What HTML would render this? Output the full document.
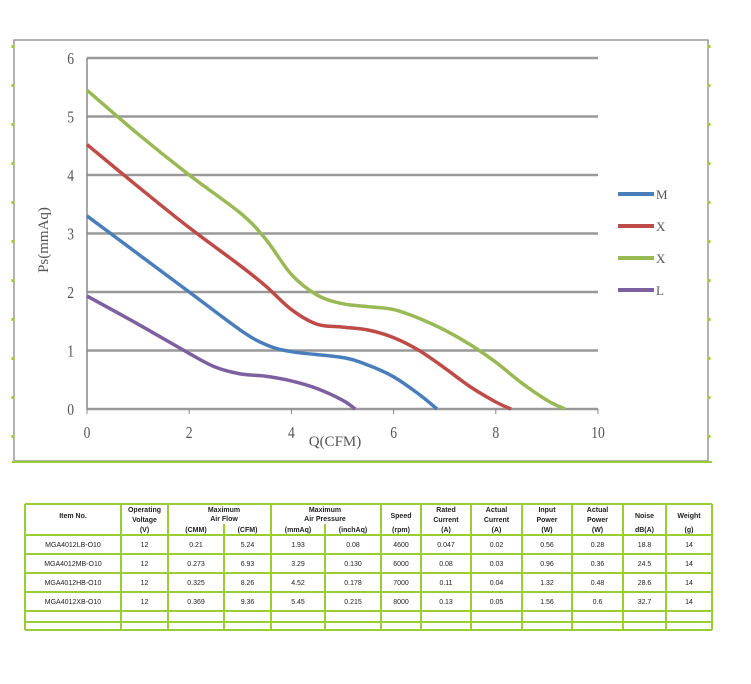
<!DOCTYPE html>
<html><head><meta charset="utf-8"><style>
body{margin:0;width:751px;height:684px;background:#fff;position:relative;overflow:hidden;font-family:"Liberation Sans",sans-serif}
svg{position:absolute;left:0;top:0}
</style></head><body>
<svg width="751" height="684">
<g id="frame"></g>
<g id="plot"></g>
<g id="tbl"></g>
</svg>
<script>
const xTicks=[0,2,4,6,8,10];
const yTicks=[0,1,2,3,4,5,6];
const seriesNames=["M","X","X","L"];
const seriesColors=["#4a7ebb","#be4b48","#98b954","#7d60a0"];
const blueX=[0,1,2,3,3.5,4,5,5.5,6,6.5,6.85];
const blueY=[3.3,2.65,2.0,1.35,1.1,0.98,0.88,0.75,0.55,0.25,0];
const redX=[0,1,2,3,3.5,4,4.5,5,5.5,6,6.5,7,7.5,8,8.3];
const redY=[4.52,3.8,3.1,2.45,2.1,1.7,1.45,1.4,1.35,1.22,1.0,0.7,0.38,0.12,0];
const greenX=[0,1,2,3,3.5,4,4.5,5,5.5,6,6.5,7,7.5,8,8.5,9,9.35];
const greenY=[5.45,4.7,4.0,3.35,2.9,2.3,1.95,1.8,1.75,1.7,1.55,1.35,1.1,0.8,0.45,0.15,0];
const purpleX=[0,1,2,2.5,3,3.5,4,4.5,5,5.25];
const purpleY=[1.93,1.45,0.95,0.72,0.6,0.56,0.48,0.35,0.15,0];
const tableHeader1=["Item No.","Operating Voltage","Maximum Air Flow","","Maximum Air Pressure","","Speed","Rated Current","Actual Current","Input Power","Actual Power","Noise","Weight"];
const tableUnits=["","(V)","(CMM)","(CFM)","(mmAq)","(inchAq)","(rpm)","(A)","(A)","(W)","(W)","dB(A)","(g)"];
const tableRows=[
["MGA4012LB-O10","12","0.21","5.24","1.93","0.08","4600","0.047","0.02","0.56","0.28","18.8","14"],
["MGA4012MB-O10","12","0.273","6.93","3.29","0.130","6000","0.08","0.03","0.96","0.36","24.5","14"],
["MGA4012HB-O10","12","0.325","8.26","4.52","0.178","7000","0.11","0.04","1.32","0.48","28.6","14"],
["MGA4012XB-O10","12","0.369","9.36","5.45","0.215","8000","0.13","0.05","1.56","0.6","32.7","14"]];
const NS="http://www.w3.org/2000/svg";
function mk(p,t,a,txt){const e=document.createElementNS(NS,t);for(const k in a)e.setAttribute(k,a[k]);if(txt!==undefined)e.textContent=txt;p.appendChild(e);return e;}
const sx=v=>87+v*51.1, sy=v=>409-v*58.5;
const frame=document.getElementById('frame'),plot=document.getElementById('plot'),tbl=document.getElementById('tbl');
mk(frame,'rect',{x:14,y:40,width:694,height:421,fill:'#fff',stroke:'#999','stroke-width':1.5});
mk(frame,'line',{x1:12,y1:462,x2:712,y2:462,stroke:'#9acd32','stroke-width':2});
for(let y=45;y<440;y+=39){mk(frame,'line',{x1:13,y1:y,x2:13,y2:y+3,stroke:'#9acd32','stroke-width':3});mk(frame,'line',{x1:709,y1:y,x2:709,y2:y+3,stroke:'#9acd32','stroke-width':3});}
yTicks.forEach(v=>{const l=mk(plot,'line',{x1:sx(0),y1:sy(v),x2:sx(10),y2:sy(v),stroke:'#999','stroke-width':2.5});

const t=mk(plot,'text',{x:74/0.8,y:sy(v)+6,'text-anchor':'end','font-family':'Liberation Serif','font-size':17,fill:'#555',transform:'scale(0.8,1)'},v);
});
mk(plot,'line',{x1:sx(0),y1:sy(0),x2:sx(0),y2:sy(6),stroke:'#888','stroke-width':1.5});
xTicks.forEach(v=>{mk(plot,'line',{x1:sx(v),y1:sy(0),x2:sx(v),y2:sy(0)+5,stroke:'#888'});
const t=mk(plot,'text',{x:sx(v)/0.8,y:438,'text-anchor':'middle','font-family':'Liberation Serif','font-size':17,fill:'#555',transform:'scale(0.8,1)'},v);
});
const xt=mk(plot,'text',{x:335,y:446,'text-anchor':'middle','font-family':'Liberation Serif','font-size':15,fill:'#555'},'Q(CFM)');

const yt=mk(plot,'text',{x:0,y:0,transform:'translate(48,240) rotate(-90)','text-anchor':'middle','font-family':'Liberation Serif','font-size':15,fill:'#555'},'Ps(mmAq)');

function smooth(X,Y){const P=X.map((x,i)=>[sx(x),sy(Y[i])]);let d='M'+P[0][0]+','+P[0][1];
for(let i=0;i<P.length-1;i++){const p0=P[i-1]||P[i],p1=P[i],p2=P[i+1],p3=P[i+2]||P[i+1];
d+=' C'+(p1[0]+(p2[0]-p0[0])/6)+','+(p1[1]+(p2[1]-p0[1])/6)+' '+(p2[0]-(p3[0]-p1[0])/6)+','+(p2[1]-(p3[1]-p1[1])/6)+' '+p2[0]+','+p2[1];}return d;}
const allX=[blueX,redX,greenX,purpleX],allY=[blueY,redY,greenY,purpleY];
allX.forEach((X,i)=>{const p=mk(plot,'path',{d:smooth(X,allY[i]),fill:'none',stroke:seriesColors[i],'stroke-width':3.5});

const ly=194+i*32;
const l=mk(plot,'line',{x1:618,y1:ly,x2:654,y2:ly,stroke:seriesColors[i],'stroke-width':4});

const t=mk(plot,'text',{x:656,y:ly+5,'font-family':'Liberation Serif','font-size':13,fill:'#555'},seriesNames[i]);
});
// table
const cols=[25,121,168,224,271,325,381,421,471,522,572,623,666,712];
const rowsY=[535,554,573,592,611,622,630];
const G='#9acd32';
mk(tbl,'line',{x1:25,y1:504,x2:712,y2:504,stroke:G,'stroke-width':2});
rowsY.forEach(y=>mk(tbl,'line',{x1:25,y1:y,x2:712,y2:y,stroke:G,'stroke-width':2}));
cols.forEach((x,i)=>{let y1=504;if(i==3||i==5)y1=524;mk(tbl,'line',{x1:x,y1:y1,x2:x,y2:630,stroke:G,'stroke-width':2});});
const cx=i=>(cols[i]+cols[i+1])/2;
function tx(x,y,s,b,nm){const t=mk(tbl,'text',{x:x,y:y,'text-anchor':'middle','font-size':7,'font-weight':b?'bold':'normal',fill:'#222'},s);}
tableHeader1.forEach((h,i)=>{if(!h)return;let x=cx(i);if(i==2||i==4)x=cols[i+1];
const w=h.split(' ');if(i==0||i==6||i==11||i==12)tx(x,518,h,1,'header-'+i);
else if(i==2||i==4){tx(x,512,w[0],1,'header-'+i);tx(x,521,w.slice(1).join(' '),1,'header-'+i+'-b');}
else{tx(x,512,w[0],1,'header-'+i);tx(x,522,w[1],1,'header-'+i+'-b');}});
tableUnits.forEach((u,i)=>{if(u)tx(cx(i),532,u,1,'unit-'+i);});
tableRows.forEach((r,j)=>r.forEach((c,i)=>tx(cx(i),rowsY[j]+12,c,0,'cell-'+j+'-'+i)));
</script>
</body></html>
